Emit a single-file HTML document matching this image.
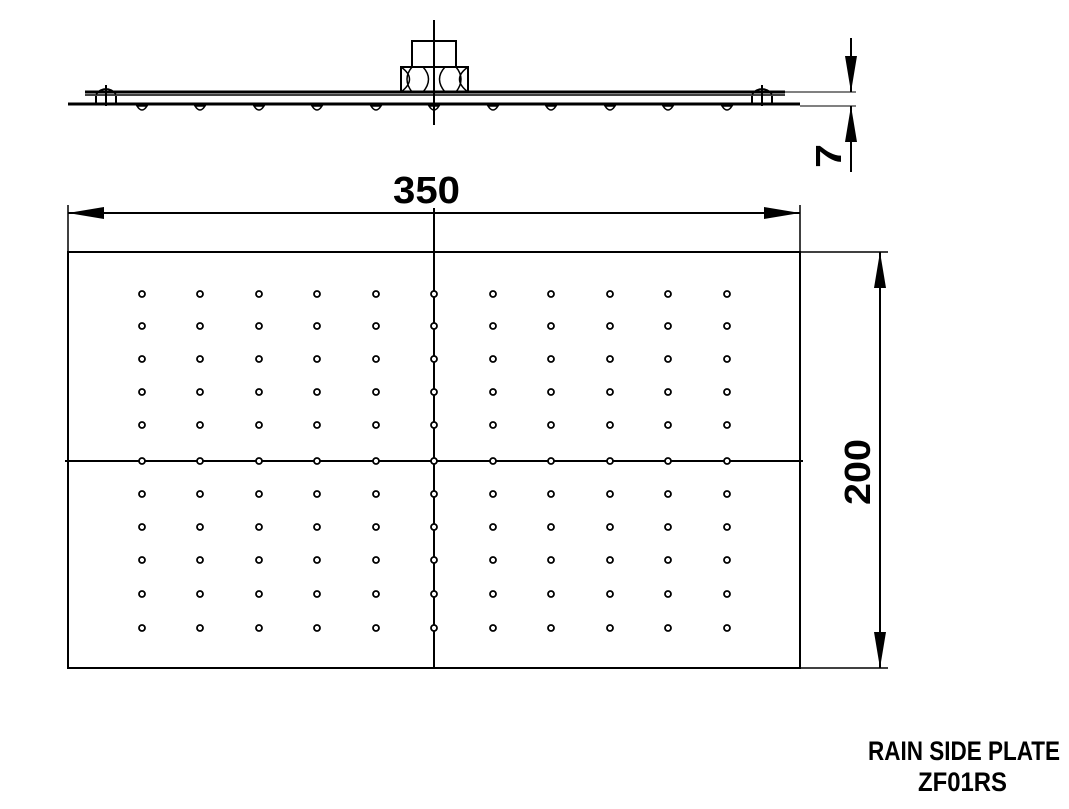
<!DOCTYPE html>
<html><head><meta charset="utf-8"><style>html,body{margin:0;padding:0;background:#fff}svg{display:block}</style></head>
<body>
<svg width="1069" height="809" viewBox="0 0 1069 809" xmlns="http://www.w3.org/2000/svg" xmlns:xlink="http://www.w3.org/1999/xlink" font-family="Liberation Sans, sans-serif">
<defs>
<marker id="a" viewBox="0 0 36 12" refX="36" refY="6" markerWidth="36" markerHeight="12" orient="auto-start-reverse" markerUnits="userSpaceOnUse"><path d="M0,0 L36,6 L0,12z" fill="#000"/></marker>
<g id="row" stroke="#000" stroke-width="1.8" fill="#fff">
<circle cx="142" cy="0" r="3"/><circle cx="200" cy="0" r="3"/><circle cx="259" cy="0" r="3"/><circle cx="317" cy="0" r="3"/><circle cx="376" cy="0" r="3"/><circle cx="434" cy="0" r="3"/><circle cx="493" cy="0" r="3"/><circle cx="551" cy="0" r="3"/><circle cx="610" cy="0" r="3"/><circle cx="668" cy="0" r="3"/><circle cx="727" cy="0" r="3"/>
</g>
</defs>
<g stroke="#000" fill="none" stroke-width="2">
<line x1="434" y1="20" x2="434" y2="125"/>
<rect x="412" y="41" width="44" height="26"/>
<rect x="401" y="67" width="67" height="25"/>
<path d="M401,67 Q418,79 401,92 M468,67 Q451,79 468,92 M412,67 Q402,79 412,92 M456,67 Q466,79 456,92 M423,67 Q434,79 423,92 M445,67 Q434,79 445,92" stroke-width="1.5"/>
<line x1="85" y1="92" x2="785" y2="92" stroke-width="3"/>
<line x1="85" y1="95" x2="785" y2="95" stroke-width="1.5"/>
<line x1="68" y1="104" x2="800" y2="104" stroke-width="3"/>
<path d="M96,94 Q106,84 116,94 M96,96 V104 M116,96 V104 M106,85 V106"/>
<path d="M752,94 Q762,84 772,94 M752,96 V104 M772,96 V104 M762,85 V106"/>
<path stroke-width="1.5" d="M137,106 q5,8 10,0z M195,106 q5,8 10,0z M254,106 q5,8 10,0z M312,106 q5,8 10,0z M371,106 q5,8 10,0z M429,106 q5,8 10,0z M488,106 q5,8 10,0z M546,106 q5,8 10,0z M605,106 q5,8 10,0z M663,106 q5,8 10,0z M722,106 q5,8 10,0z"/>
<line x1="785" y1="92" x2="856" y2="92" stroke-width="1"/>
<line x1="800" y1="106" x2="856" y2="106" stroke-width="1"/>
<line x1="851" y1="38" x2="851" y2="92" marker-end="url(#a)"/>
<line x1="851" y1="172" x2="851" y2="106" marker-end="url(#a)"/>
<rect x="68" y="252" width="732" height="416"/>
<line x1="65" y1="461" x2="803" y2="461"/>
<line x1="434" y1="208" x2="434" y2="668"/>
<line x1="68" y1="205" x2="68" y2="252" stroke-width="1.5"/>
<line x1="800" y1="205" x2="800" y2="252" stroke-width="1.5"/>
<line x1="68" y1="213" x2="800" y2="213" marker-start="url(#a)" marker-end="url(#a)"/>
<line x1="800" y1="252" x2="888" y2="252" stroke-width="1.5"/>
<line x1="800" y1="668" x2="888" y2="668" stroke-width="1.5"/>
<line x1="880" y1="252" x2="880" y2="668" marker-start="url(#a)" marker-end="url(#a)"/>
</g>
<use href="#row" xlink:href="#row" y="294"/>
<use href="#row" xlink:href="#row" y="326"/>
<use href="#row" xlink:href="#row" y="359"/>
<use href="#row" xlink:href="#row" y="392"/>
<use href="#row" xlink:href="#row" y="425"/>
<use href="#row" xlink:href="#row" y="461"/>
<use href="#row" xlink:href="#row" y="494"/>
<use href="#row" xlink:href="#row" y="527"/>
<use href="#row" xlink:href="#row" y="560"/>
<use href="#row" xlink:href="#row" y="594"/>
<use href="#row" xlink:href="#row" y="628"/>
<g font-weight="bold" fill="#000">
<text x="393" y="203" font-size="38" textLength="67" lengthAdjust="spacingAndGlyphs">350</text>
<text transform="translate(870,505) rotate(-90)" font-size="36" textLength="66" lengthAdjust="spacingAndGlyphs">200</text>
<text transform="translate(841,168) rotate(-90)" font-size="36" textLength="24" lengthAdjust="spacingAndGlyphs">7</text>
<text x="868" y="760" font-size="27" textLength="192" lengthAdjust="spacingAndGlyphs">RAIN SIDE PLATE</text>
<text x="918" y="791" font-size="27" textLength="89" lengthAdjust="spacingAndGlyphs">ZF01RS</text>
</g>
</svg>
</body></html>
